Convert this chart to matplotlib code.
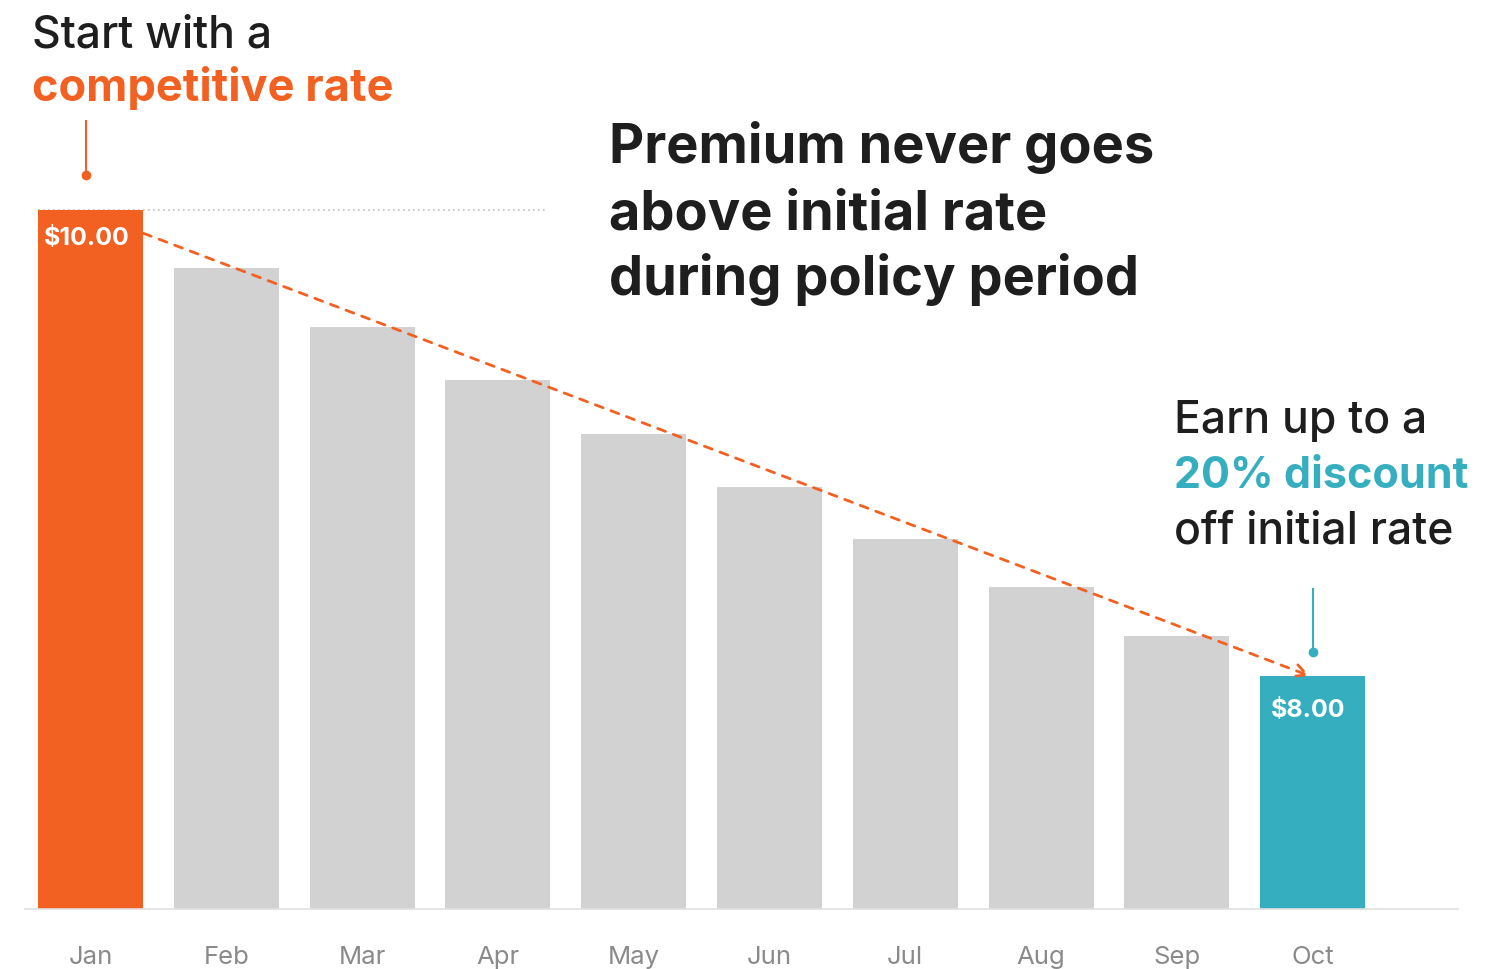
import matplotlib
matplotlib.use("Agg")
import matplotlib.pyplot as plt

months = ["Jan", "Feb", "Mar", "Apr", "May", "Jun", "Jul", "Aug", "Sep", "Oct"]
premium = [10.00, 9.75, 9.50, 9.27, 9.04, 8.81, 8.59, 8.38, 8.17, 8.00]

ORANGE = "#F26122"
TEAL = "#35AEC0"
GREY = "#D2D2D2"
DARK = "#1E1E1E"

plt.rcParams["font.family"] = ["Inter", "DejaVu Sans"]

fig = plt.figure(figsize=(15.03, 9.70), dpi=100)
ax = fig.add_axes([25 / 1503, 60 / 970, 1433 / 1503, 910 / 970])

x = list(range(len(months)))
colors = [ORANGE] + [GREY] * (len(months) - 2) + [TEAL]
bars = ax.bar(x, [v - 7 for v in premium], bottom=7, width=0.773, color=colors, zorder=2)

ax.set_xlim(-0.482, 10.07)
ax.set_ylim(7, 7 + 910 / 233)
for s in ["top", "right", "left"]:
    ax.spines[s].set_visible(False)
ax.spines["bottom"].set_color("#E0E0E0")
ax.spines["bottom"].set_linewidth(1.2)
ax.set_yticks([])
ax.set_xticks(x)
ax.set_xticklabels(months, fontsize=18.5, color="#8A8A8A")
ax.tick_params(axis="x", length=0, pad=26)

# initial rate reference
ax.plot([-0.386, 3.37], [premium[0], premium[0]], color="#BDBDBD", lw=1.2,
        ls=(0, (1, 2)), zorder=1)

# trend arrow from first bar to last
ax.annotate("", xy=(x[-1] - 0.02, premium[-1]), xytext=(0.39, premium[0] - 0.1),
            arrowprops=dict(arrowstyle="->", color=ORANGE, lw=2, ls=(0, (3, 3)),
                            mutation_scale=22, shrinkA=0, shrinkB=0), zorder=3)

# bar value labels
ax.text(x[0] - 0.03, premium[0] - 0.12, f"${premium[0]:.2f}", color="white", fontsize=18,
        fontweight="bold", ha="center", va="center", zorder=4)
ax.text(x[-1] - 0.03, premium[-1] - 0.145, f"${premium[-1]:.2f}", color="white", fontsize=18,
        fontweight="bold", ha="center", va="center", zorder=4)

# pointer stems
ax.plot([-0.035, -0.035], [10.15, 10.382], color=ORANGE, lw=1.5, clip_on=False)
ax.plot([-0.035], [10.15], "o", color=ORANGE, ms=6, clip_on=False)
ax.plot([9.0, 9.0], [8.103, 8.373], color=TEAL, lw=1.5, clip_on=False)
ax.plot([9.0], [8.103], "o", color=TEAL, ms=6, clip_on=False)

# text blocks
fig.text(32 / 1503, 1 - 47 / 970, "Start with a", fontsize=32, color=DARK,
         fontweight="medium", va="baseline")
fig.text(32 / 1503, 1 - 101 / 970, "competitive rate", fontsize=32.5, color=ORANGE,
         fontweight="bold", va="baseline")

title_lines = ["Premium never goes", "above initial rate", "during policy period"]
for i, line in enumerate(title_lines):
    fig.text(609 / 1503, 1 - (163 + 66 * i) / 970, line, fontsize=39, color=DARK,
             fontweight="bold", va="baseline")

fig.text(1174 / 1503, 1 - 433 / 970, "Earn up to a", fontsize=32, color=DARK,
         fontweight="medium", va="baseline")
fig.text(1174 / 1503, 1 - 488 / 970, "20% discount", fontsize=31, color=TEAL,
         fontweight="bold", va="baseline")
fig.text(1174 / 1503, 1 - 543 / 970, "off initial rate", fontsize=32, color=DARK,
         fontweight="medium", va="baseline")

fig.savefig("out.png", dpi=100, facecolor="white")
